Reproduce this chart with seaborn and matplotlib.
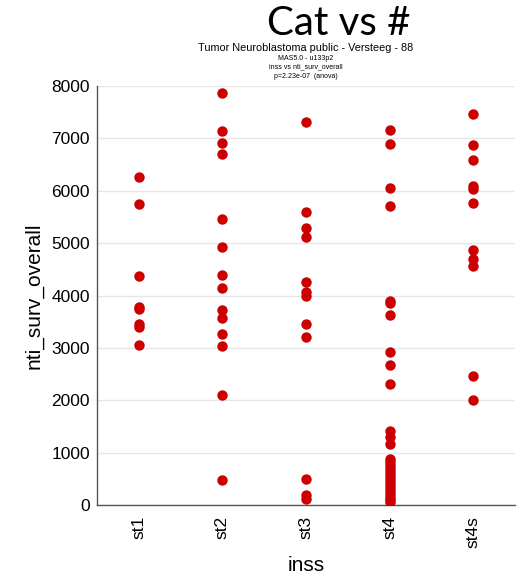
import seaborn as sns
import matplotlib.pyplot as plt
import pandas as pd

# values
st1 = [6260, 5750, 4380, 3780, 3740, 3450, 3400, 3050]
st2 = [7870, 7140, 6910, 6700, 5460, 4920, 4400, 4150, 3730, 3570, 3260, 3030, 2100, 470]
st3 = [7310, 5600, 5280, 5120, 4250, 4070, 4000, 3450, 3200, 500, 200, 120]
st4 = [7160, 6890, 6060, 5700, 3900, 3860, 3630, 2920, 2680, 2310, 1420, 1290, 1170,
       880, 820, 760, 700, 640, 590, 530, 470, 420, 360, 300, 250, 190, 140, 90, 50]
st4s = [7460, 6880, 6580, 6100, 6040, 5760, 4860, 4700, 4570, 2470, 2000]
stages = ["st1", "st2", "st3", "st4", "st4s"]

df = pd.DataFrame({
    "inss": sum([[s] * len(v) for s, v in zip(stages, [st1, st2, st3, st4, st4s])], []),
    "nti_surv_overall": st1 + st2 + st3 + st4 + st4s,
})

sns.set_theme(style="whitegrid")
plt.rcParams['font.family'] = ['Liberation Sans', 'DejaVu Sans']
plt.rcParams['text.color'] = 'black'
plt.rcParams['axes.labelcolor'] = 'black'
plt.rcParams['xtick.color'] = 'black'
plt.rcParams['ytick.color'] = 'black'

fig = plt.figure(figsize=(5.26, 5.77), dpi=100)
ax = fig.add_axes([97 / 526, 72 / 577, 418 / 526, 419 / 577])

sns.stripplot(data=df, x="inss", y="nti_surv_overall", order=stages,
              jitter=False, color="#cc0000", size=7.5, linewidth=0, ax=ax)

ax.set_ylim(0, 8000)
ax.set_xlim(-0.5, 4.5)
ax.set_yticks(range(0, 8001, 1000))
ax.grid(axis="y", color="#e6e6e6", linewidth=1)
ax.grid(axis="x", visible=False)
for side in ["top", "right"]:
    ax.spines[side].set_visible(False)
for side in ["left", "bottom"]:
    ax.spines[side].set_color("#555555")
    ax.spines[side].set_linewidth(1)
ax.tick_params(axis="y", labelsize=12.5, length=0, pad=5)
ax.tick_params(axis="x", labelsize=12.5, length=0, rotation=90, pad=8)
ax.set_xlabel("inss", fontsize=15, labelpad=6)
ax.set_ylabel("nti_surv_overall", fontsize=15, labelpad=6)

fig.text(339 / 526, 1 - 35 / 577, "Cat vs #", fontsize=29, ha="center", va="baseline",
         family=["Lato", "DejaVu Sans"])
fig.text(306 / 526, 1 - 48 / 577, "Tumor Neuroblastoma public - Versteeg - 88",
         fontsize=7.8, ha="center", va="center")
fig.text(306 / 526, 1 - 58 / 577, "MAS5.0 - u133p2", fontsize=5, ha="center", va="center")
fig.text(306 / 526, 1 - 67 / 577, "inss vs nti_surv_overall", fontsize=5, ha="center", va="center")
fig.text(306 / 526, 1 - 77 / 577, "p=2.23e-07  (anova)", fontsize=5, ha="center", va="center")

fig.savefig("out.png", dpi=100)
